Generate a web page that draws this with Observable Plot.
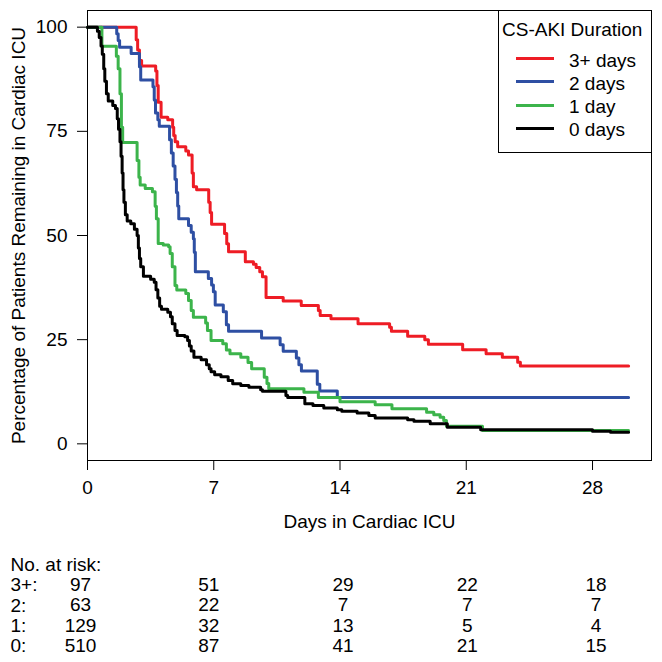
<!DOCTYPE html>
<html>
<head>
<meta charset="utf-8">
<script src="https://cdn.jsdelivr.net/npm/d3@7"></script>
<script src="https://cdn.jsdelivr.net/npm/@observablehq/plot@0.6"></script>
<style>
  body { margin: 0; background: #fff; }
  #wrap { position: relative; width: 662px; height: 662px; font-family: "Liberation Sans", Arial, sans-serif; color: #000; }
  .lg-box { position: absolute; left: 498px; top: 10px; width: 152px; height: 141px; border: 1px solid #000; background: #fff; }
  .lg-text { position: absolute; font-size: 19px; line-height: 19px; height: 19px; white-space: nowrap; }
  .lg-sw { position: absolute; left: 516px; width: 38px; height: 3px; }
</style>
</head>
<body>
<div id="wrap"></div>
<script>
// ---- Data ----
const days3 = [0, 2.7, 2.78, 2.88, 3.0, 3.78, 3.85, 3.92, 4.08, 4.45, 4.72, 4.78, 4.86, 5.0, 5.45, 5.6, 5.8, 5.87, 6.05, 6.72, 6.8, 6.88, 7.6, 7.72, 7.82, 8.75, 9.2, 9.35, 9.55, 9.7, 9.9, 10.85, 11.85, 12.8, 12.9, 13.5, 15.0, 16.75, 16.85, 17.75, 18.7, 18.9, 20.8, 22.1, 23.0, 23.85, 24.0, 30];
const surv3 = [100, 97, 94.5, 92, 90.7, 89.5, 86, 82, 78.4, 77.8, 76, 74, 72.5, 71.3, 70.3, 69.3, 65, 61.7, 61, 58, 55.5, 52.7, 50.5, 48, 46.1, 43.7, 43.1, 42.3, 41.3, 40.1, 35.1, 34.3, 33.2, 32.0, 30.8, 30.0, 28.8, 28.0, 27.0, 25.8, 25.0, 23.9, 22.6, 21.6, 20.8, 19.6, 18.7, 18.7];

const days2 = [0, 1.62, 1.7, 1.78, 2.42, 2.88, 2.95, 3.63, 3.7, 3.77, 3.9, 3.98, 4.55, 4.65, 4.75, 4.85, 4.93, 5.0, 5.06, 5.6, 5.75, 5.87, 5.92, 5.98, 6.7, 6.88, 6.98, 7.08, 7.53, 7.7, 7.82, 9.65, 10.68, 10.85, 11.58, 11.72, 11.86, 12.74, 12.88, 13.85, 30];
const surv2 = [100, 98.4, 96.8, 95.2, 93.7, 90.5, 87.3, 85.7, 82.5, 79.4, 77.8, 76.2, 73.0, 69.8, 66.7, 63.5, 60.3, 57.1, 54.0, 52.4, 50.8, 49.2, 46.0, 41.3, 39.7, 38.1, 36.5, 33.3, 31.7, 28.6, 27.0, 25.4, 23.8, 22.2, 20.6, 19.0, 17.5, 14.3, 12.7, 11.1, 11.1];

const days1 = [0, 0.8, 1.6, 1.7, 1.8, 1.88, 1.95, 2.75, 2.85, 2.92, 3.2, 3.6, 3.75, 3.82, 3.92, 4.2, 4.5, 4.58, 4.7, 4.85, 4.95, 5.45, 5.6, 5.75, 5.87, 6.55, 6.65, 6.85, 7.5, 7.7, 7.9, 8.5, 8.9, 9.1, 9.8, 9.95, 10.05, 12.0, 12.8, 14.0, 15.95, 16.88, 18.8, 19.2, 19.55, 19.75, 19.9, 21.9, 30];
const surv1 = [100, 95.4, 93, 90, 84, 76, 72.3, 68, 64, 62.1, 61.3, 60.5, 57, 54, 48.1, 47.7, 47.3, 45.7, 42.5, 38, 36.9, 36.1, 34.4, 32, 30.4, 29, 27.2, 24.8, 24.0, 22.5, 21.6, 20.8, 19.5, 18.0, 16, 14.5, 13.2, 12.4, 11.1, 10.1, 9.4, 8.4, 7.6, 7.0, 6.4, 5.6, 4.2, 3.2, 3.2];

const days0 = [0, 0.55, 0.65, 0.75, 0.82, 0.9, 0.96, 1.05, 1.15, 1.4, 1.55, 1.65, 1.72, 1.8, 1.86, 1.92, 1.97, 2.02, 2.1, 2.2, 2.4, 2.6, 2.75, 2.82, 2.88, 2.95, 3.1, 3.5, 3.7, 3.8, 3.9, 4.0, 4.1, 4.45, 4.6, 4.7, 4.85, 4.97, 5.4, 5.55, 5.65, 5.75, 5.9, 6.3, 6.6, 6.75, 6.85, 7.05, 7.4, 7.8, 8.05, 8.5, 8.95, 9.6, 9.7, 11.0, 11.1, 12.05, 12.5, 13.1, 13.85, 14.1, 14.95, 15.6, 15.95, 17.75, 18.1, 19.0, 19.95, 21.8, 28.0, 29.0, 30];
const surv0 = [100, 99, 97.5, 95.5, 93.5, 90, 87, 84, 82.3, 81.2, 80.5, 78, 75.5, 72.5, 69, 65, 61, 58, 55, 53.5, 52.8, 51.5, 50, 47, 44.5, 42.5, 40.2, 39.5, 38.8, 37, 35, 33, 32.3, 31.6, 30.5, 28.8, 27.2, 26, 25.7, 24.8, 23.5, 22.3, 20.8, 20.2, 19.0, 18.0, 17.3, 16.6, 16.1, 15.2, 14.4, 14.0, 13.6, 13.0, 12.6, 11.6, 11.1, 9.6, 9.2, 8.6, 8.2, 7.8, 7.4, 6.8, 6.2, 5.8, 5.4, 4.8, 4.0, 3.4, 3.0, 2.8, 2.8];

const seriesLabels = ["3+ days", "2 days", "1 day", "0 days"];
const seriesColors = ["#ee1c25", "#2e4fa3", "#3cb44b", "#000000"];
const legendTitle = "CS-AKI Duration";

const xTicks = [0, 7, 14, 21, 28];
const yTicks = [0, 25, 50, 75, 100];
const xLabel = "Days in Cardiac ICU";
const yLabel = "Percentage of Patients Remaining in Cardiac ICU";

const riskHeader = "No. at risk:";
const riskGroups = ["3+:", "2:", "1:", "0:"];
const risk3 = [97, 51, 29, 22, 18];
const risk2 = [63, 22, 7, 7, 7];
const risk1 = [129, 32, 13, 5, 4];
const risk0 = [510, 87, 41, 21, 15];

// ---- Build ----
const seriesDays = [days3, days2, days1, days0];
const seriesSurv = [surv3, surv2, surv1, surv0];
const riskRows = [risk3, risk2, risk1, risk0];
const colNudge = [-7, -5, 3, 1, 3.5]; // layout nudge of the risk-table columns

const lineMarks = seriesDays.map((ds, i) =>
  Plot.line(ds.map((t, j) => ({t, s: seriesSurv[i][j]})), {
    x: "t", y: "s", curve: "step-after", stroke: seriesColors[i], strokeWidth: 3
  })
);

const riskMarks = xTicks.map((day, j) =>
  Plot.text([day], {
    x: d => d,
    text: () => riskRows.map(r => r[j]).join("\n"),
    frameAnchor: "bottom", textAnchor: "middle", lineAnchor: "top", lineHeight: 1.068,
    dy: 116.2, dx: colNudge[j], fill: "black"
  })
);

const plot = Plot.plot({
  width: 662, height: 662,
  marginLeft: 87, marginRight: 11, marginTop: 10, marginBottom: 202,
  style: {fontSize: "19px", fontFamily: "'Liberation Sans', Arial, sans-serif", background: "white", color: "black", overflow: "visible"},
  x: {domain: [0, 31.27], ticks: xTicks, tickSize: 10, tickPadding: 10, label: null, tickFormat: d => String(d)},
  y: {domain: [-4, 104], ticks: yTicks, tickSize: 10, tickPadding: 10, label: null, tickFormat: d => String(d)},
  marks: [
    ...lineMarks,
    Plot.frame({stroke: "black", strokeWidth: 1}),
    Plot.text([xLabel], {text: d => d, frameAnchor: "bottom", textAnchor: "middle", dy: 67, fill: "black"}),
    Plot.text([yLabel], {text: d => d, frameAnchor: "left", textAnchor: "middle", lineAnchor: "middle", rotate: -90, dx: -69, fill: "black"}),
    Plot.text([[riskHeader, ...riskGroups].join("\n")], {
      text: d => d, frameAnchor: "bottom-left", textAnchor: "start", lineAnchor: "top",
      lineHeight: 1.068, dy: 96.2, dx: -77, fill: "black"
    }),
    ...riskMarks
  ]
});

const wrap = document.getElementById("wrap");
wrap.appendChild(plot);

// ---- Legend (HTML overlay, top-right inside the plot box) ----
const lg = d3.select(wrap);
lg.append("div").attr("class", "lg-box");
lg.append("div").attr("class", "lg-text").style("left", "502px").style("top", "19.5px").text(legendTitle);
const swY = [58.3, 81.3, 105, 128.3];
const txY = [60, 83, 106.2, 129.6];
seriesLabels.forEach((lab, i) => {
  lg.append("div").attr("class", "lg-sw").style("top", (swY[i] - 1.5) + "px").style("background", seriesColors[i]);
  lg.append("div").attr("class", "lg-text").style("left", "569px").style("top", (txY[i] - 9.5) + "px").text(lab);
});
</script>
</body>
</html>
